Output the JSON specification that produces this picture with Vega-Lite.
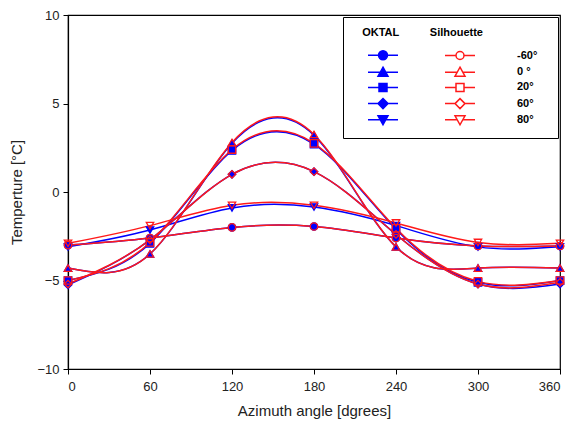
{
  "$schema": "https://vega.github.io/schema/vega-lite/v6.json",
  "width": 492,
  "height": 354,
  "autosize": {"type": "none"},
  "padding": {"left": 68, "top": 15, "right": 12, "bottom": 60},
  "background": "white",
  "config": {
    "view": {"stroke": "black", "strokeWidth": 1.2},
    "font": "Liberation Sans",
    "axis": {
      "grid": false,
      "domainColor": "black",
      "domainWidth": 1.2,
      "tickColor": "black",
      "tickSize": 5,
      "labelFont": "Liberation Sans",
      "labelFontSize": 13,
      "labelColor": "#222",
      "titleFont": "Liberation Sans",
      "titleFontSize": 15,
      "titleFontWeight": "normal",
      "titleColor": "#222"
    }
  },
  "data": {
    "values": [
      {"model": "OKTAL", "angle": "-60°", "az": 0, "t": -3.0},
      {"model": "OKTAL", "angle": "-60°", "az": 60, "t": -2.6},
      {"model": "OKTAL", "angle": "-60°", "az": 120, "t": -2.0},
      {"model": "OKTAL", "angle": "-60°", "az": 180, "t": -1.95},
      {"model": "OKTAL", "angle": "-60°", "az": 240, "t": -2.6},
      {"model": "OKTAL", "angle": "-60°", "az": 300, "t": -3.05},
      {"model": "OKTAL", "angle": "-60°", "az": 360, "t": -3.05},
      {"model": "OKTAL", "angle": "0 °", "az": 0, "t": -4.3},
      {"model": "OKTAL", "angle": "0 °", "az": 60, "t": -3.5},
      {"model": "OKTAL", "angle": "0 °", "az": 120, "t": 2.75},
      {"model": "OKTAL", "angle": "0 °", "az": 180, "t": 3.2},
      {"model": "OKTAL", "angle": "0 °", "az": 240, "t": -3.1},
      {"model": "OKTAL", "angle": "0 °", "az": 300, "t": -4.3},
      {"model": "OKTAL", "angle": "0 °", "az": 360, "t": -4.3},
      {"model": "OKTAL", "angle": "20°", "az": 0, "t": -5.0},
      {"model": "OKTAL", "angle": "20°", "az": 60, "t": -2.9},
      {"model": "OKTAL", "angle": "20°", "az": 120, "t": 2.35},
      {"model": "OKTAL", "angle": "20°", "az": 180, "t": 2.7},
      {"model": "OKTAL", "angle": "20°", "az": 240, "t": -2.1},
      {"model": "OKTAL", "angle": "20°", "az": 300, "t": -5.1},
      {"model": "OKTAL", "angle": "20°", "az": 360, "t": -5.0},
      {"model": "OKTAL", "angle": "60°", "az": 0, "t": -5.25},
      {"model": "OKTAL", "angle": "60°", "az": 60, "t": -2.7},
      {"model": "OKTAL", "angle": "60°", "az": 120, "t": 1.0},
      {"model": "OKTAL", "angle": "60°", "az": 180, "t": 1.15},
      {"model": "OKTAL", "angle": "60°", "az": 240, "t": -2.4},
      {"model": "OKTAL", "angle": "60°", "az": 300, "t": -5.2},
      {"model": "OKTAL", "angle": "60°", "az": 360, "t": -5.2},
      {"model": "OKTAL", "angle": "80°", "az": 0, "t": -3.1},
      {"model": "OKTAL", "angle": "80°", "az": 60, "t": -2.15},
      {"model": "OKTAL", "angle": "80°", "az": 120, "t": -0.9},
      {"model": "OKTAL", "angle": "80°", "az": 180, "t": -0.85},
      {"model": "OKTAL", "angle": "80°", "az": 240, "t": -1.9},
      {"model": "OKTAL", "angle": "80°", "az": 300, "t": -3.1},
      {"model": "OKTAL", "angle": "80°", "az": 360, "t": -3.1},
      {"model": "Silhouette", "angle": "-60°", "az": 0, "t": -3.0},
      {"model": "Silhouette", "angle": "-60°", "az": 60, "t": -2.6},
      {"model": "Silhouette", "angle": "-60°", "az": 120, "t": -2.0},
      {"model": "Silhouette", "angle": "-60°", "az": 180, "t": -1.95},
      {"model": "Silhouette", "angle": "-60°", "az": 240, "t": -2.6},
      {"model": "Silhouette", "angle": "-60°", "az": 300, "t": -3.05},
      {"model": "Silhouette", "angle": "-60°", "az": 360, "t": -3.05},
      {"model": "Silhouette", "angle": "0 °", "az": 0, "t": -4.3},
      {"model": "Silhouette", "angle": "0 °", "az": 60, "t": -3.5},
      {"model": "Silhouette", "angle": "0 °", "az": 120, "t": 2.8},
      {"model": "Silhouette", "angle": "0 °", "az": 180, "t": 3.25},
      {"model": "Silhouette", "angle": "0 °", "az": 240, "t": -3.1},
      {"model": "Silhouette", "angle": "0 °", "az": 300, "t": -4.3},
      {"model": "Silhouette", "angle": "0 °", "az": 360, "t": -4.3},
      {"model": "Silhouette", "angle": "20°", "az": 0, "t": -5.0},
      {"model": "Silhouette", "angle": "20°", "az": 60, "t": -2.85},
      {"model": "Silhouette", "angle": "20°", "az": 120, "t": 2.4},
      {"model": "Silhouette", "angle": "20°", "az": 180, "t": 2.75},
      {"model": "Silhouette", "angle": "20°", "az": 240, "t": -2.05},
      {"model": "Silhouette", "angle": "20°", "az": 300, "t": -5.05},
      {"model": "Silhouette", "angle": "20°", "az": 360, "t": -5.0},
      {"model": "Silhouette", "angle": "60°", "az": 0, "t": -5.2},
      {"model": "Silhouette", "angle": "60°", "az": 60, "t": -2.7},
      {"model": "Silhouette", "angle": "60°", "az": 120, "t": 1.0},
      {"model": "Silhouette", "angle": "60°", "az": 180, "t": 1.15},
      {"model": "Silhouette", "angle": "60°", "az": 240, "t": -2.4},
      {"model": "Silhouette", "angle": "60°", "az": 300, "t": -5.2},
      {"model": "Silhouette", "angle": "60°", "az": 360, "t": -5.1},
      {"model": "Silhouette", "angle": "80°", "az": 0, "t": -2.9},
      {"model": "Silhouette", "angle": "80°", "az": 60, "t": -1.9},
      {"model": "Silhouette", "angle": "80°", "az": 120, "t": -0.75},
      {"model": "Silhouette", "angle": "80°", "az": 180, "t": -0.75},
      {"model": "Silhouette", "angle": "80°", "az": 240, "t": -1.75},
      {"model": "Silhouette", "angle": "80°", "az": 300, "t": -2.85},
      {"model": "Silhouette", "angle": "80°", "az": 360, "t": -2.9}
    ]
  },
  "transform": [{"calculate": "datum.model + ' ' + datum.angle", "as": "key"}],
  "encoding": {
    "x": {
      "field": "az", "type": "quantitative",
      "scale": {"domain": [0, 360], "nice": false, "zero": false},
      "axis": {"values": [0, 60, 120, 180, 240, 300, 360], "title": "Azimuth angle [dgrees]", "labelPadding": 6, "titlePadding": 10}
    },
    "y": {
      "field": "t", "type": "quantitative",
      "scale": {"domain": [-10, 10], "nice": false},
      "axis": {"values": [-10, -5, 0, 5, 10], "title": "Temperture [°C]", "labelPadding": 4, "titlePadding": 12}
    }
  },
  "layer": [
    {
      "mark": {"type": "line", "interpolate": "natural", "strokeWidth": 1.5},
      "encoding": {
        "color": {"field": "model", "type": "nominal", "scale": {"domain": ["OKTAL", "Silhouette"], "range": ["#0000ff", "#ff1a1a"]}, "legend": null},
        "detail": {"field": "key"}
      }
    },
    {
      "mark": {"type": "point", "size": 55, "strokeWidth": 1.3, "opacity": 1},
      "encoding": {
        "shape": {"field": "angle", "type": "nominal", "scale": {"domain": ["-60°", "0 °", "20°", "60°", "80°"], "range": ["circle", "triangle-up", "square", "diamond", "triangle-down"]}, "legend": null},
        "stroke": {"field": "model", "type": "nominal", "scale": {"domain": ["OKTAL", "Silhouette"], "range": ["#0000ff", "#ff1a1a"]}, "legend": null},
        "fill": {"field": "model", "type": "nominal", "scale": {"domain": ["OKTAL", "Silhouette"], "range": ["#0000ff", "transparent"]}, "legend": null}
      }
    },
    {
      "transform": [{"filter": "datum.az < 0"}],
      "mark": {"type": "point", "opacity": 1},
      "encoding": {
        "shape": {
          "field": "key", "type": "nominal",
          "scale": {
            "domain": ["OKTAL -60°", "OKTAL 0 °", "OKTAL 20°", "OKTAL 60°", "OKTAL 80°", "Silhouette -60°", "Silhouette 0 °", "Silhouette 20°", "Silhouette 60°", "Silhouette 80°"],
            "range": [
              "M1.8,0L3.9,0M5.7,0L7.8,0M3.9,0A0.9,0.9,0,1,1,5.7,0A0.9,0.9,0,1,1,3.9,0Z",
              "M1.8,0L4.24,0M5.36,0L7.8,0M4.8,-1L5.8,0.8L3.8,0.8Z",
              "M1.8,0L4,0M5.6,0L7.8,0M4,-0.8L5.6,-0.8L5.6,0.8L4,0.8Z",
              "M1.8,0L3.8,0M5.8,0L7.8,0M4.8,-1L5.8,0L4.8,1L3.8,0Z",
              "M1.8,0L4.24,0M5.36,0L7.8,0M3.8,-0.8L5.8,-0.8L4.8,1Z",
              "M-3,0L-0.8,0M0.8,0L3,0M-0.8,0A0.8,0.8,0,1,1,0.8,0A0.8,0.8,0,1,1,-0.8,0Z",
              "M-3,0L-0.56,0M0.56,0L3,0M0,-1L1,0.8L-1,0.8Z",
              "M-3,0L-0.8,0M0.8,0L3,0M-0.8,-0.8L0.8,-0.8L0.8,0.8L-0.8,0.8Z",
              "M-3,0L-1,0M1,0L3,0M0,-1L1,0L0,1L-1,0Z",
              "M-3,0L-0.56,0M0.56,0L3,0M-1,-0.8L1,-0.8L0,1Z"
            ]
          },
          "legend": {
            "title": "\u200b\u00a0\u00a0\u00a0OKTAL\u00a0\u00a0\u00a0\u00a0\u00a0\u00a0\u00a0\u00a0\u00a0\u00a0Silhouette\u00a0\u00a0\u00a0\u00a0\u00a0\u00a0\u00a0\u00a0\u00a0\u00a0\u00a0\u00a0\u00a0\u00a0\u00a0\u00a0\u00a0\u00a0\u00a0\u00a0\u00a0\u200b",
            "titleLimit": 400,
            "orient": "top-right",
            "offset": 2,
            "columns": 2,
            "labelExpr": "indexof(datum.label, 'OKTAL') === 0 ? '' : slice(datum.label, 11)",
            "symbolSize": 100,
            "symbolStrokeWidth": 1.5,
            "strokeColor": "black",
            "fillColor": "white",
            "padding": 10,
            "columnPadding": 26,
            "labelOffset": 51,
            "rowPadding": 1.2,
            "titleFont": "Liberation Sans",
            "titleFontSize": 11,
            "titleFontWeight": "bold",
            "titleColor": "black",
            "titlePadding": 11,
            "labelFont": "Liberation Sans",
            "labelFontSize": 11,
            "labelFontWeight": "bold",
            "labelColor": "black"
          }
        },
        "stroke": {
          "field": "key", "type": "nominal",
          "scale": {
            "domain": ["OKTAL -60°", "OKTAL 0 °", "OKTAL 20°", "OKTAL 60°", "OKTAL 80°", "Silhouette -60°", "Silhouette 0 °", "Silhouette 20°", "Silhouette 60°", "Silhouette 80°"],
            "range": ["#0000ff", "#0000ff", "#0000ff", "#0000ff", "#0000ff", "#ff1a1a", "#ff1a1a", "#ff1a1a", "#ff1a1a", "#ff1a1a"]
          },
          "legend": {"title": "\u200b\u00a0\u00a0\u00a0OKTAL\u00a0\u00a0\u00a0\u00a0\u00a0\u00a0\u00a0\u00a0\u00a0\u00a0Silhouette\u00a0\u00a0\u00a0\u00a0\u00a0\u00a0\u00a0\u00a0\u00a0\u00a0\u00a0\u00a0\u00a0\u00a0\u00a0\u00a0\u00a0\u00a0\u00a0\u00a0\u00a0\u200b"}
        },
        "fill": {
          "field": "key", "type": "nominal",
          "scale": {
            "domain": ["OKTAL -60°", "OKTAL 0 °", "OKTAL 20°", "OKTAL 60°", "OKTAL 80°", "Silhouette -60°", "Silhouette 0 °", "Silhouette 20°", "Silhouette 60°", "Silhouette 80°"],
            "range": ["#0000ff", "#0000ff", "#0000ff", "#0000ff", "#0000ff", "transparent", "transparent", "transparent", "transparent", "transparent"]
          },
          "legend": {"title": "\u200b\u00a0\u00a0\u00a0OKTAL\u00a0\u00a0\u00a0\u00a0\u00a0\u00a0\u00a0\u00a0\u00a0\u00a0Silhouette\u00a0\u00a0\u00a0\u00a0\u00a0\u00a0\u00a0\u00a0\u00a0\u00a0\u00a0\u00a0\u00a0\u00a0\u00a0\u00a0\u00a0\u00a0\u00a0\u00a0\u00a0\u200b"}
        }
      }
    }
  ],
  "resolve": {"scale": {"shape": "independent", "stroke": "independent", "fill": "independent"}}
}
